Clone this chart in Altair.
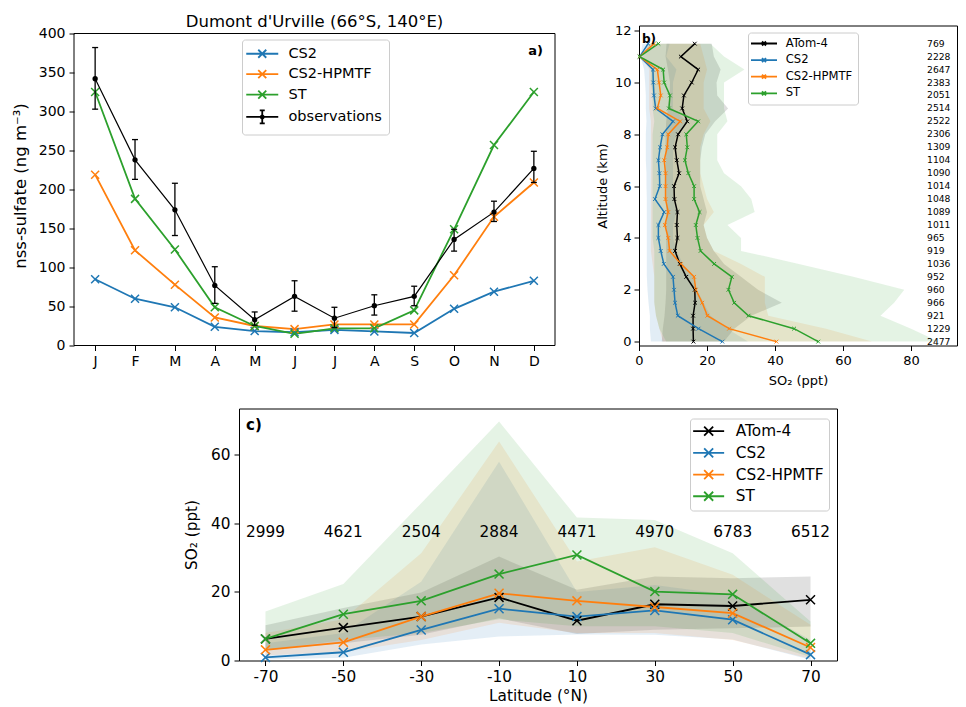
import altair as alt
import pandas as pd

FONT = "DejaVu Sans"
BLUE, ORANGE, GREEN, BLACK = "#1f77b4", "#ff7f0e", "#2ca02c", "#000000"
XMARK = "M-1,-1L1,1M-1,1L1,-1"
CAP = "M-1,0L1,0"

# ---------------- panel a ----------------
months = ["J", "F", "M", "A", "M", "J", "J", "A", "S", "O", "N", "D"]
cs2_a = [85, 60, 49, 24, 18.5, 17, 20, 18, 16, 47, 69, 83]
hpmtf_a = [219, 122, 78, 36, 25, 21, 27, 27, 27, 90, 165, 209]
st_a = [325, 188, 123, 49, 25, 15, 22, 22, 45, 149, 257, 325]
obs_a = [342, 238, 174, 77, 33, 63, 35, 51, 63, 136, 171, 227]
obs_lo = [303, 213, 141, 54, 26, 44, 23, 39, 51, 121, 159, 209]
obs_hi = [382, 264, 208, 101, 43, 83, 49, 65, 76, 149, 185, 249]
series_a = ["CS2", "CS2-HPMTF", "ST", "observations"]

# ---------------- panel b ----------------
altitudes = [0, 0.5, 1, 1.5, 2, 2.5, 3, 3.5, 4, 4.5, 5, 5.5,
             6, 6.5, 7, 7.5, 8, 8.5, 9, 9.5, 10, 10.5, 11, 11.5]
atom_b = [16.0, 15.9, 15.9, 16.5, 16.4, 13.9, 12.0, 10.6, 11.3, 11.1, 11.3, 10.4,
          10.3, 11.8, 11.1, 10.6, 11.5, 14.2, 12.7, 13.2, 15.5, 17.4, 12.3, 16.4]
cs2_b = [24.5, 17.5, 11.4, 10.6, 10.3, 10.0, 7.3, 6.4, 5.7, 5.7, 7.4, 4.7,
         6.1, 6.0, 5.7, 6.2, 6.9, 10.0, 4.9, 4.4, 4.2, 4.1, 0.2, 2.7]
hpmtf_b = [40.4, 26.5, 20.1, 18.6, 16.7, 16.2, 12.3, 9.0, 8.6, 7.6, 8.6, 7.8,
           7.8, 7.8, 7.4, 8.3, 8.6, 12.1, 5.4, 6.4, 5.9, 5.4, 0.2, 4.4]
st_b = [52.7, 45.6, 32.2, 28.0, 26.3, 27.3, 22.1, 18.1, 17.2, 16.7, 17.8, 16.2,
        16.2, 14.5, 13.5, 14.2, 13.9, 17.4, 8.8, 9.1, 7.4, 7.1, 0.2, 5.7]
atom_lo_b = [6.7, 7.0, 7.5, 7.8, 8.0, 8.0, 8.0, 8.0, 8.0, 8.0, 8.0, 8.0,
             8.0, 7.8, 7.8, 7.8, 7.8, 8.0, 8.5, 9.0, 9.1, 8.5, 7.8, 8.1]
atom_hi_b = [25, 28, 33, 42, 35, 30, 25, 22, 20, 19, 20, 19,
             18, 18, 18, 18.5, 19.5, 22.4, 26.2, 23, 22.8, 24, 22, 21.4]
cs2_lo_b = [3.5, 3.2, 3.2, 2.8, 2.5, 2.3, 2.3, 2.3, 2.3, 2.3, 2.3, 2.3,
            2.2, 2.2, 2.0, 2.0, 2.0, 2.2, 2.0, 2.0, 1.8, 1.5, 0.5, 1.0]
cs2_hi_b = [32, 26, 21, 19, 17, 16, 13, 11, 10, 10, 11, 10,
            10, 10, 10, 10, 11, 14, 10, 10, 10, 11, 8, 9]
hpmtf_lo_b = [7, 6, 5, 4.5, 4.5, 4.5, 4, 3.5, 3.5, 3.5, 3.5, 3.5,
              3.5, 3.5, 3.5, 3.5, 3.5, 3.5, 3, 3, 3, 3, 1, 2.5]
hpmtf_hi_b = [68.5, 55, 38, 37, 37, 37, 30, 22, 20, 19, 22, 20,
              19, 18, 18, 18, 19, 21, 19, 19, 19, 20, 19, 18]
st_lo_b = [8, 6, 5, 4.5, 4.5, 4.5, 4.5, 4.5, 4, 4, 4, 4,
           4, 4, 4, 4, 4, 4.5, 4, 4, 3.5, 3.5, 1, 3]
st_hi_b = [88, 80, 71, 75, 78, 63, 47, 30, 30, 26, 34, 33,
           30, 25, 23, 23, 23, 26, 25, 25, 25, 31, 25, 21]
counts_b = [2477, 1229, 921, 966, 960, 952, 1036, 919, 965, 1011, 1089, 1048,
            1014, 1090, 1104, 1309, 2306, 2522, 2514, 2051, 2383, 2647, 2228, 769]
series_b = ["ATom-4", "CS2", "CS2-HPMTF", "ST"]

# ---------------- panel c ----------------
lats = [-70, -50, -30, -10, 10, 30, 50, 70]
atom_c = [6.3, 9.6, 12.8, 18.4, 11.6, 16.4, 15.9, 17.7]
cs2_c = [0.9, 2.4, 8.9, 15.1, 12.8, 14.6, 11.9, 1.7]
hpmtf_c = [3.1, 5.3, 12.8, 19.6, 17.4, 15.6, 13.8, 3.8]
st_c = [6.3, 13.5, 17.4, 25.2, 30.8, 20.1, 19.3, 5.0]
atom_lo_c = [3, 5, 7.5, 12.3, 7.7, 9, 9.4, 9.9]
atom_hi_c = [10.3, 15.3, 19.8, 30.3, 20.6, 24.5, 24, 24.5]
cs2_lo_c = [0.3, 0.8, 4.7, 7, 7.6, 7.5, 6.1, 0.2]
cs2_hi_c = [5, 8, 23, 58, 20, 22, 19, 6]
hpmtf_lo_c = [1.5, 2.5, 6, 11, 8, 8, 6, 0.5]
hpmtf_hi_c = [8, 12, 31.3, 63.9, 28.9, 33, 25, 10.4]
st_lo_c = [3, 6, 8, 12, 10, 10, 8, 1]
st_hi_c = [14.3, 22.3, 45.9, 69.7, 41.7, 41, 31.3, 11.4]
counts_c = [2999, 4621, 2504, 2884, 4471, 4970, 6783, 6512]
series_c = ["ATom-4", "CS2", "CS2-HPMTF", "ST"]

panel_tags = ["a)", "b)", "c)"]


def legend(legx, legy, path, fsize, rowpad, symoff, laboff, pad=5):
    return alt.Legend(title=None, orient="none", legendX=legx, legendY=legy,
                      symbolType=path, symbolSize=100, symbolStrokeWidth=1.8,
                      labelFontSize=fsize, labelFont=FONT, labelColor="black",
                      rowPadding=rowpad, padding=pad, strokeColor="#cccccc",
                      fillColor="white", cornerRadius=3, symbolOffset=symoff,
                      labelOffset=laboff)


# ================= panel a chart =================
ia = list(range(12))
dfa = pd.DataFrame({
    "m": ia * 3,
    "v": cs2_a + hpmtf_a + st_a,
    "sa": [series_a[0]] * 12 + [series_a[1]] * 12 + [series_a[2]] * 12,
})
dfo = pd.DataFrame({"m": ia, "v": obs_a, "lo": obs_lo, "hi": obs_hi,
                    "sa": [series_a[3]] * 12})
dfcap = pd.DataFrame({"m": ia * 2, "cap": obs_lo + obs_hi})

label_expr = "[" + ",".join("'%s'" % m for m in months) + "][datum.value]"
XA_DOM = [-0.53, 11.53]
YA_TOP = 400
YA_DOM = [0, 410.26]   # plot area reaches 8px above the 400 frame line

XA_SCALE = alt.Scale(domain=XA_DOM, nice=False, zero=False)
YA_SCALE = alt.Scale(domain=YA_DOM, nice=False)
XA_AXIS = alt.Axis(values=ia, labelExpr=label_expr, title=None, labelFontSize=14,
                   tickSize=5, labelPadding=4, labelFlush=False, labelOverlap=False)
YA_AXIS = alt.Axis(values=list(range(0, 401, 50)), title="nss-sulfate (ng m⁻³)",
                   titleFontSize=16.5, labelFontSize=14, tickSize=5,
                   labelPadding=4, titlePadding=10, labelFlush=False, labelOverlap=False)


def xa(field="m"):
    return alt.X(f"{field}:Q", scale=XA_SCALE, axis=XA_AXIS)


def ya(field="v"):
    return alt.Y(f"{field}:Q", scale=YA_SCALE, axis=YA_AXIS)


MODEL_PATH_A = "M-3.2,0L3.2,0M-0.8,-0.8L0.8,0.8M-0.8,0.8L0.8,-0.8"
OBS_PATH_A = ("M-3.2,0L3.2,0M0,-1.3L0,1.3M-0.5,-1.3L0.5,-1.3M-0.5,1.3L0.5,1.3"
              "M-0.3,0A0.3,0.3 0 1,0 0.3,0A0.3,0.3 0 1,0 -0.3,0"
              "M-0.1,0A0.1,0.1 0 1,0 0.1,0A0.1,0.1 0 1,0 -0.1,0")
scale_a = alt.Scale(domain=series_a, range=[BLUE, ORANGE, GREEN, BLACK])
shape_a = alt.Scale(domain=series_a, range=[MODEL_PATH_A] * 3 + [OBS_PATH_A])
leg_a = legend(168, 14, MODEL_PATH_A, 14.5, 4.4, 6, 19, pad=7)


def col_a():
    return alt.Color("sa:N", scale=scale_a, legend=leg_a)


# frame of the axes (matplotlib spines at the axis limits)
frame_a = alt.Chart(pd.DataFrame({"f": [0]})).mark_rect(
    fill="transparent", stroke="black", strokeWidth=1).encode(
    x=alt.XDatum(XA_DOM[0], type="quantitative", scale=XA_SCALE, axis=XA_AXIS),
    x2=alt.X2Datum(XA_DOM[1]),
    y=alt.YDatum(0, type="quantitative", scale=YA_SCALE, axis=YA_AXIS),
    y2=alt.Y2Datum(YA_TOP))
# legend-only layer: no rows drawn, legend built from the explicit scale domains
legend_a = alt.Chart(dfa).transform_filter("false").mark_point(
    filled=False, opacity=1, strokeWidth=1.8).encode(
    x=xa(), y=ya(), color=col_a(), shape=alt.Shape("sa:N", scale=shape_a, legend=leg_a))
lines_a = alt.Chart(dfa).mark_line(strokeWidth=1.8).encode(x=xa(), y=ya(), color=col_a())
pts_a = alt.Chart(dfa).mark_point(shape=XMARK, filled=False, size=64, strokeWidth=1.5, opacity=1).encode(
    x=xa(), y=ya(), color=col_a())
rules_a = alt.Chart(dfo).mark_rule(color=BLACK, strokeWidth=1.3).encode(
    x=xa(), y=ya("lo"), y2="hi:Q")
caps_a = alt.Chart(dfcap).mark_point(shape=CAP, size=36, filled=False, color=BLACK,
                                     strokeWidth=1.3, opacity=1).encode(x=xa(), y=ya("cap"))
oline_a = alt.Chart(dfo).mark_line(strokeWidth=1.2).encode(x=xa(), y=ya(), color=col_a())
odots_a = alt.Chart(dfo).mark_circle(size=28, color=BLACK, opacity=1).encode(x=xa(), y=ya())
tag_a = alt.Chart(pd.DataFrame({"t": [panel_tags[0]]})).mark_text(
    font=FONT, fontWeight="bold", fontSize=13, align="right", baseline="middle", color="black"
).encode(text="t:N", x=alt.value(469), y=alt.value(25.5))

pa = alt.layer(frame_a, lines_a, pts_a, rules_a, caps_a, oline_a, odots_a, tag_a, legend_a).properties(
    width=481, height=320, view=alt.ViewBackground(stroke=None),
    title=alt.Title("Dumont d'Urville (66°S, 140°E)", fontSize=16.5, offset=-4.5,
                    font=FONT, fontWeight="normal", color="black"))

# ================= panel b chart =================
nb = len(altitudes)
dfb = pd.DataFrame({
    "alt": altitudes * 4,
    "v": atom_b + cs2_b + hpmtf_b + st_b,
    "lo": atom_lo_b + cs2_lo_b + hpmtf_lo_b + st_lo_b,
    "hi": atom_hi_b + cs2_hi_b + hpmtf_hi_b + st_hi_b,
    "sb": sum([[s] * nb for s in series_b], []),
})
dfnb = pd.DataFrame({"alt": altitudes, "n": counts_b})


def xb(field):
    return alt.X(f"{field}:Q", scale=alt.Scale(domain=[0, 93.5], nice=False, zero=False),
                 axis=alt.Axis(values=[0, 20, 40, 60, 80], title="SO₂ (ppt)", titleFontSize=13,
                               labelFontSize=13, tickSize=5, labelPadding=4, titlePadding=7,
                               labelFlush=False, labelOverlap=False))


def yb(field):
    return alt.Y(f"{field}:Q", scale=alt.Scale(domain=[-0.15, 12.2], nice=False, zero=False),
                 axis=alt.Axis(values=list(range(0, 13, 2)), title="Altitude (km)", titleFontSize=13,
                               labelFontSize=13, tickSize=5, labelPadding=3, titlePadding=5,
                               labelFlush=False, labelOverlap=False))


MODEL_PATH_B = "M-2.6,0L2.6,0M-0.4,-0.4L0.4,0.4M-0.4,0.4L0.4,-0.4"
COLORS_B = [BLACK, BLUE, ORANGE, GREEN]
scale_b = alt.Scale(domain=series_b, range=COLORS_B)
# auxiliary scales list the series in reverse order so their (hidden) legends stay separate
rev_b = series_b[::-1]
leg_b = legend(109, 7, MODEL_PATH_B, 11.6, 4.6, 5, 15.7)

bands_b = alt.Chart(dfb).mark_area(orient="horizontal").encode(
    y=yb("alt"), x=xb("lo"), x2="hi:Q",
    fill=alt.Fill("sb:N", scale=alt.Scale(domain=rev_b, range=COLORS_B[::-1]), legend=None),
    opacity=alt.Opacity("sb:N", scale=alt.Scale(domain=rev_b, range=[0.13, 0.13, 0.13, 0.2]),
                        legend=None))
lines_b = alt.Chart(dfb).mark_line().encode(
    x=xb("v"), y=yb("alt"), order="alt:Q",
    color=alt.Color("sb:N", scale=scale_b, legend=leg_b),
    strokeWidth=alt.StrokeWidth("sb:N", scale=alt.Scale(domain=rev_b, range=[1.5, 1.5, 1.5, 2]),
                                legend=None))
pts_b = alt.Chart(dfb).mark_point(shape=XMARK, filled=False, size=14, strokeWidth=1, opacity=1).encode(
    x=xb("v"), y=yb("alt"), color=alt.Color("sb:N", scale=scale_b, legend=leg_b))
cnt_b = alt.Chart(dfnb).mark_text(font=FONT, fontSize=9.2, align="left", baseline="middle",
                                  color="black").encode(
    x=alt.datum(84.7), y=yb("alt"), text=alt.Text("n:Q", format="d"))
tag_b = alt.Chart(pd.DataFrame({"t": [panel_tags[1]]})).mark_text(
    font=FONT, fontWeight="bold", fontSize=12, align="left", baseline="middle", color="black"
).encode(text="t:N", x=alt.value(3), y=alt.value(13))

pb = alt.layer(bands_b, lines_b, pts_b, cnt_b, tag_b).properties(width=318, height=320)

# ================= panel c chart =================
nc = len(lats)
dfc = pd.DataFrame({
    "lat": lats * 4,
    "v": atom_c + cs2_c + hpmtf_c + st_c,
    "lo": atom_lo_c + cs2_lo_c + hpmtf_lo_c + st_lo_c,
    "hi": atom_hi_c + cs2_hi_c + hpmtf_hi_c + st_hi_c,
    "sc": sum([[s] * nc for s in series_c], []),
})
dfnc = pd.DataFrame({"lat": lats, "n": counts_c})


def xc(field="lat"):
    return alt.X(f"{field}:Q", scale=alt.Scale(domain=[-76.8, 76.8], nice=False, zero=False),
                 axis=alt.Axis(values=lats, title="Latitude (°N)", titleFontSize=15.3,
                               labelFontSize=15.3, tickSize=5, labelPadding=4, titlePadding=4,
                               labelFlush=False, labelOverlap=False,
                               labelExpr="'' + datum.value"))


def yc(field):
    return alt.Y(f"{field}:Q", scale=alt.Scale(domain=[0, 73.5], nice=False),
                 axis=alt.Axis(values=list(range(0, 71, 10)), title="SO₂ (ppt)", titleFontSize=15.3,
                               labelFontSize=15.3, tickSize=5, labelPadding=4, titlePadding=11,
                               labelFlush=False, labelOverlap=False))


MODEL_PATH_C = "M-3.1,0L3.1,0M-0.9,-0.9L0.9,0.9M-0.9,0.9L0.9,-0.9"
COLORS_C = [BLACK, BLUE, ORANGE, GREEN]
scale_c = alt.Scale(domain=series_c, range=COLORS_C)
rev_c = series_c[::-1]
leg_c = legend(451, 10, MODEL_PATH_C, 15.3, 4.7, 6, 19.5)

bands_c = alt.Chart(dfc).mark_area().encode(
    x=xc(), y=yc("lo"), y2="hi:Q",
    fill=alt.Fill("sc:N", scale=alt.Scale(domain=rev_c, range=COLORS_C[::-1]), legend=None),
    opacity=alt.Opacity("sc:N", scale=alt.Scale(domain=rev_c, range=[0.12, 0.12, 0.12, 0.2]),
                        legend=None))
lines_c = alt.Chart(dfc).mark_line(strokeWidth=1.8).encode(
    x=xc(), y=yc("v"), color=alt.Color("sc:N", scale=scale_c, legend=leg_c))
pts_c = alt.Chart(dfc).mark_point(shape=XMARK, filled=False, size=80, strokeWidth=1.5, opacity=1).encode(
    x=xc(), y=yc("v"), color=alt.Color("sc:N", scale=scale_c, legend=leg_c))
cnt_c = alt.Chart(dfnc).mark_text(font=FONT, fontSize=15.3, align="center", baseline="middle",
                                  color="black").encode(
    x=xc(), y=alt.datum(37.5), text=alt.Text("n:Q", format="d"))
tag_c = alt.Chart(pd.DataFrame({"t": [panel_tags[2]]})).mark_text(
    font=FONT, fontWeight="bold", fontSize=15, align="left", baseline="middle", color="black"
).encode(text="t:N", x=alt.value(7), y=alt.value(16))

pc = alt.layer(bands_c, lines_c, pts_c, cnt_c, tag_c).properties(width=598, height=252)

spacer = alt.Chart(pd.DataFrame({"z": [0]})).mark_point(opacity=0).encode(
    x=alt.X("z:Q", axis=None), y=alt.Y("z:Q", axis=None)
).properties(width=110, height=10, view=alt.ViewBackground(stroke=None))

RES = dict(color="independent", opacity="independent", strokeWidth="independent",
           shape="independent", fill="independent")
row1 = alt.hconcat(pa, pb, spacing=39).resolve_scale(**RES)
row2 = alt.hconcat(spacer, pc, spacing=0).resolve_scale(**RES)

chart = alt.vconcat(row1, row2, spacing=19).resolve_scale(**RES).properties(
    padding={"left": 4, "top": 5.5, "right": 0, "bottom": 0}
).configure_view(stroke="black", strokeWidth=1).configure_axis(
    grid=False, domain=False, tickColor="black", tickWidth=1, labelColor="black",
    titleColor="black", labelFont=FONT, titleFont=FONT, titleFontWeight="normal"
).configure_title(font=FONT, fontWeight="normal", color="black"
).configure_legend(labelFont=FONT, labelColor="black")

chart.save("out.html", embed_options={"renderer": "svg", "actions": False})
